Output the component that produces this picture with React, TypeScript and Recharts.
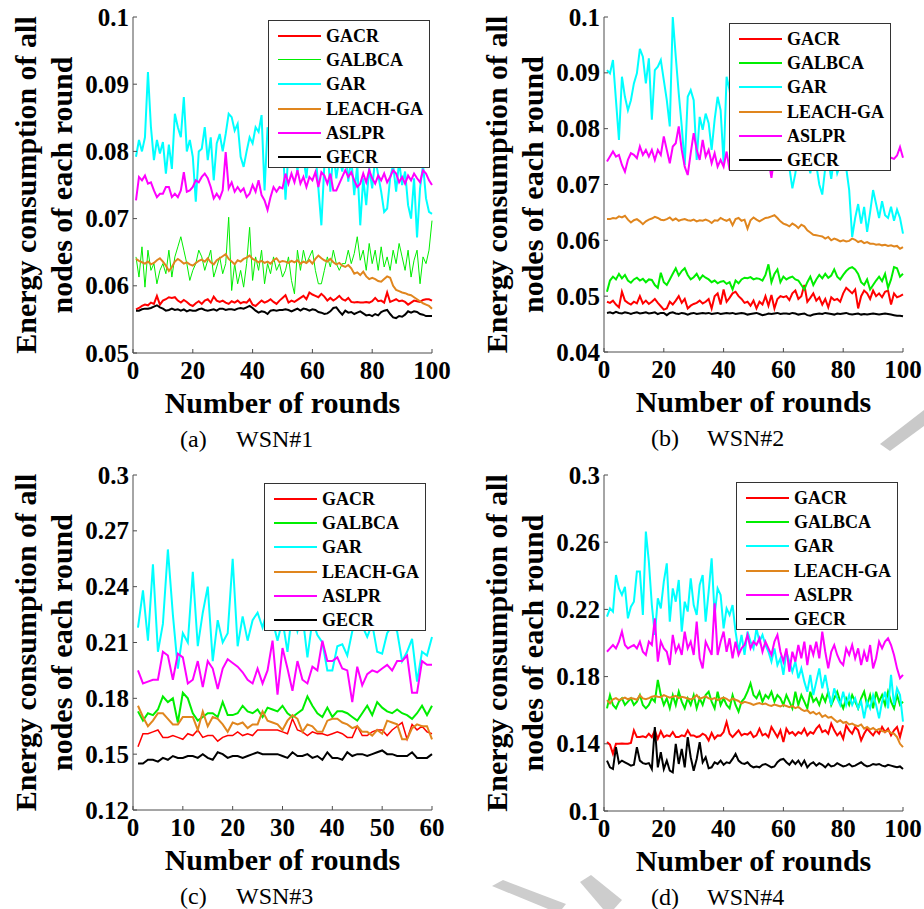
import { LineChart, Line, XAxis, YAxis, Legend } from 'recharts'

const SERIES = ['GACR', 'GALBCA', 'GAR', 'LEACH-GA', 'ASLPR', 'GECR']
const COLORS = ['#ff0000', '#00ee00', '#00ffff', '#e0861e', '#ff00ff', '#000000']

const ROUNDS_100 = Array.from({ length: 100 }, (_, i) => i + 1)
const ROUNDS_60 = Array.from({ length: 60 }, (_, i) => i + 1)

const X_TICKS_100 = [0, 20, 40, 60, 80, 100]
const X_TICKS_60 = [0, 10, 20, 30, 40, 50, 60]
const Y_TICKS_A = [0.05, 0.06, 0.07, 0.08, 0.09, 0.1]
const Y_TICKS_B = [0.04, 0.05, 0.06, 0.07, 0.08, 0.09, 0.1]
const Y_TICKS_C = [0.12, 0.15, 0.18, 0.21, 0.24, 0.27, 0.3]
const Y_TICKS_D = [0.1, 0.14, 0.18, 0.22, 0.26, 0.3]

// WSN#1
const A_GACR = [
  0.0565, 0.0567, 0.0570, 0.0572, 0.0571, 0.0575, 0.0573, 0.0585, 0.0572, 0.0578,
  0.0580, 0.0583, 0.0582, 0.0583, 0.0578, 0.0575, 0.0579, 0.0576, 0.0572, 0.0570,
  0.0574, 0.0577, 0.0573, 0.0578, 0.0580, 0.0575, 0.0584, 0.0578, 0.0576, 0.0578,
  0.0575, 0.0573, 0.0577, 0.0575, 0.0578, 0.0574, 0.0576, 0.0575, 0.0580, 0.0572,
  0.0570, 0.0574, 0.0578, 0.0575, 0.0577, 0.0580, 0.0576, 0.0573, 0.0578, 0.0582,
  0.0586, 0.0575, 0.0578, 0.0576, 0.0579, 0.0582, 0.0585, 0.0580, 0.0590, 0.0587,
  0.0585, 0.0583, 0.0588, 0.0584, 0.0578, 0.0582, 0.0578, 0.0581, 0.0585, 0.0580,
  0.0578, 0.0582, 0.0576, 0.0575, 0.0576, 0.0575, 0.0575, 0.0576, 0.0575, 0.0577,
  0.0582, 0.0577, 0.0578, 0.0575, 0.0590, 0.0576, 0.0578, 0.0580, 0.0577, 0.0578,
  0.0576, 0.0572, 0.0575, 0.0578, 0.0577, 0.0576, 0.0579, 0.0580, 0.0580, 0.0578,
]
const A_GALBCA = [
  0.0643, 0.0613, 0.0658, 0.0598, 0.0653, 0.0623, 0.0633, 0.0603, 0.0623, 0.0633,
  0.0618, 0.0653, 0.0613, 0.0643, 0.0658, 0.0673, 0.0653, 0.0633, 0.0608, 0.0623,
  0.0633, 0.0653, 0.0643, 0.0623, 0.0638, 0.0653, 0.0613, 0.0628, 0.0643, 0.0618,
  0.0633, 0.0702, 0.0593, 0.0633, 0.0603, 0.0623, 0.0598, 0.0633, 0.0687, 0.0608,
  0.0643, 0.0623, 0.0653, 0.0603, 0.0633, 0.0618, 0.0643, 0.0623, 0.0633, 0.0613,
  0.0623, 0.0643, 0.0608, 0.0588, 0.0653, 0.0623, 0.0653, 0.0633, 0.0643, 0.0653,
  0.0623, 0.0603, 0.0603, 0.0623, 0.0643, 0.0628, 0.0653, 0.0633, 0.0623, 0.0633,
  0.0633, 0.0653, 0.0633, 0.0648, 0.0673, 0.0638, 0.0653, 0.0623, 0.0663, 0.0633,
  0.0653, 0.0623, 0.0658, 0.0628, 0.0643, 0.0623, 0.0653, 0.0633, 0.0663, 0.0643,
  0.0623, 0.0653, 0.0613, 0.0638, 0.0653, 0.0603, 0.0643, 0.0633, 0.0653, 0.0697,
]
const A_GAR = [
  0.0792, 0.0817, 0.0800, 0.0821, 0.0918, 0.0836, 0.0787, 0.0817, 0.0797, 0.0814,
  0.0767, 0.0810, 0.0774, 0.0856, 0.0836, 0.0821, 0.0881, 0.0800, 0.0817, 0.0792,
  0.0725, 0.0800, 0.0804, 0.0836, 0.0787, 0.0821, 0.0757, 0.0812, 0.0826, 0.0800,
  0.0826, 0.0856, 0.0851, 0.0831, 0.0841, 0.0792, 0.0777, 0.0800, 0.0821, 0.0812,
  0.0836, 0.0829, 0.0854, 0.0742, 0.0836, 0.0805, 0.0780, 0.0812, 0.0790, 0.0820,
  0.0728, 0.0800, 0.0785, 0.0815, 0.0770, 0.0825, 0.0790, 0.0760, 0.0810, 0.0780,
  0.0800, 0.0745, 0.0690, 0.0780, 0.0815, 0.0740, 0.0800, 0.0760, 0.0790, 0.0770,
  0.0805, 0.0755, 0.0790, 0.0735, 0.0780, 0.0690, 0.0760, 0.0720, 0.0775, 0.0745,
  0.0790, 0.0765, 0.0740, 0.0710, 0.0715, 0.0760, 0.0780, 0.0740, 0.0785, 0.0750,
  0.0770, 0.0720, 0.0700, 0.0760, 0.0672, 0.0745, 0.0780, 0.0730, 0.0710, 0.0707,
]
const A_LEACH = [
  0.0640, 0.0637, 0.0635, 0.0633, 0.0636, 0.0632, 0.0634, 0.0638, 0.0641, 0.0636,
  0.0630, 0.0622, 0.0628, 0.0636, 0.0640, 0.0637, 0.0633, 0.0635, 0.0632, 0.0630,
  0.0634, 0.0637, 0.0639, 0.0636, 0.0641, 0.0635, 0.0632, 0.0638, 0.0641, 0.0644,
  0.0647, 0.0640, 0.0636, 0.0632, 0.0638, 0.0636, 0.0640, 0.0642, 0.0645, 0.0640,
  0.0638, 0.0635, 0.0637, 0.0634, 0.0636, 0.0633, 0.0638, 0.0641, 0.0635, 0.0637,
  0.0636, 0.0634, 0.0637, 0.0635, 0.0638, 0.0633, 0.0636, 0.0634, 0.0638, 0.0633,
  0.0640, 0.0645, 0.0641, 0.0638, 0.0636, 0.0640, 0.0635, 0.0632, 0.0634, 0.0630,
  0.0628, 0.0631, 0.0626, 0.0618, 0.0620, 0.0616, 0.0621, 0.0614, 0.0610, 0.0612,
  0.0610, 0.0607, 0.0606, 0.0610, 0.0614, 0.0612, 0.0600, 0.0594, 0.0592, 0.0590,
  0.0589, 0.0587, 0.0586, 0.0583, 0.0580, 0.0577, 0.0574, 0.0572, 0.0570, 0.0566,
]
const A_ASLPR = [
  0.0727, 0.0762, 0.0757, 0.0764, 0.0752, 0.0754, 0.0742, 0.0732, 0.0737, 0.0737,
  0.0747, 0.0747, 0.0732, 0.0737, 0.0732, 0.0742, 0.0769, 0.0740, 0.0742, 0.0747,
  0.0757, 0.0754, 0.0762, 0.0767, 0.0760, 0.0747, 0.0730, 0.0737, 0.0730, 0.0742,
  0.0799, 0.0745, 0.0754, 0.0740, 0.0747, 0.0740, 0.0745, 0.0732, 0.0737, 0.0750,
  0.0740, 0.0757, 0.0735, 0.0727, 0.0713, 0.0732, 0.0747, 0.0740, 0.0747, 0.0745,
  0.0767, 0.0752, 0.0767, 0.0754, 0.0772, 0.0752, 0.0762, 0.0747, 0.0762, 0.0757,
  0.0769, 0.0747, 0.0769, 0.0764, 0.0752, 0.0767, 0.0742, 0.0742, 0.0752, 0.0762,
  0.0772, 0.0762, 0.0769, 0.0757, 0.0747, 0.0752, 0.0767, 0.0754, 0.0772, 0.0760,
  0.0752, 0.0764, 0.0757, 0.0767, 0.0754, 0.0762, 0.0772, 0.0767, 0.0754, 0.0762,
  0.0752, 0.0764, 0.0757, 0.0767, 0.0760, 0.0754, 0.0772, 0.0767, 0.0757, 0.0750,
]
const A_GECR = [
  0.0563, 0.0563, 0.0565, 0.0566, 0.0566, 0.0567, 0.0569, 0.0571, 0.0568, 0.0566,
  0.0563, 0.0564, 0.0566, 0.0564, 0.0565, 0.0563, 0.0565, 0.0562, 0.0564, 0.0563,
  0.0563, 0.0565, 0.0566, 0.0564, 0.0563, 0.0564, 0.0565, 0.0563, 0.0566, 0.0566,
  0.0564, 0.0565, 0.0565, 0.0564, 0.0566, 0.0567, 0.0566, 0.0568, 0.0570, 0.0567,
  0.0563, 0.0560, 0.0562, 0.0561, 0.0558, 0.0563, 0.0564, 0.0563, 0.0564, 0.0564,
  0.0565, 0.0564, 0.0562, 0.0564, 0.0566, 0.0563, 0.0566, 0.0565, 0.0563, 0.0565,
  0.0564, 0.0561, 0.0560, 0.0558, 0.0559, 0.0562, 0.0567, 0.0568, 0.0562, 0.0557,
  0.0563, 0.0560, 0.0561, 0.0558, 0.0560, 0.0562, 0.0559, 0.0556, 0.0557, 0.0555,
  0.0558, 0.0556, 0.0561, 0.0563, 0.0564, 0.0558, 0.0553, 0.0552, 0.0555, 0.0554,
  0.0557, 0.0562, 0.0560, 0.0562, 0.0561, 0.0558, 0.0557, 0.0555, 0.0555, 0.0555,
]

// WSN#2
const B_GACR = [
  0.0490, 0.0488, 0.0492, 0.0485, 0.0480, 0.0508, 0.0492, 0.0488, 0.0485, 0.0490,
  0.0487, 0.0500, 0.0487, 0.0492, 0.0486, 0.0490, 0.0495, 0.0488, 0.0482, 0.0476,
  0.0478, 0.0490, 0.0485, 0.0492, 0.0500, 0.0488, 0.0495, 0.0478, 0.0483, 0.0486,
  0.0488, 0.0492, 0.0487, 0.0490, 0.0495, 0.0478, 0.0500, 0.0505, 0.0485, 0.0512,
  0.0490, 0.0497, 0.0505, 0.0508, 0.0500, 0.0495, 0.0488, 0.0490, 0.0483, 0.0492,
  0.0478, 0.0490, 0.0485, 0.0500, 0.0483, 0.0502, 0.0478, 0.0495, 0.0500, 0.0498,
  0.0500, 0.0493, 0.0505, 0.0510, 0.0495, 0.0500, 0.0520, 0.0490, 0.0497, 0.0505,
  0.0492, 0.0498, 0.0485, 0.0495, 0.0480, 0.0498, 0.0493, 0.0495, 0.0490, 0.0505,
  0.0515, 0.0510, 0.0505, 0.0512, 0.0478, 0.0500, 0.0510, 0.0505, 0.0495, 0.0510,
  0.0500, 0.0505, 0.0498, 0.0508, 0.0510, 0.0485, 0.0505, 0.0498, 0.0500, 0.0503,
]
const B_GALBCA = [
  0.0508, 0.0528, 0.0535, 0.0530, 0.0540, 0.0532, 0.0538, 0.0528, 0.0524, 0.0530,
  0.0533, 0.0528, 0.0531, 0.0525, 0.0530, 0.0529, 0.0520, 0.0515, 0.0542, 0.0525,
  0.0520, 0.0530, 0.0540, 0.0550, 0.0537, 0.0545, 0.0550, 0.0538, 0.0530, 0.0534,
  0.0540, 0.0530, 0.0537, 0.0533, 0.0530, 0.0525, 0.0528, 0.0523, 0.0526, 0.0527,
  0.0522, 0.0525, 0.0512, 0.0528, 0.0523, 0.0530, 0.0533, 0.0532, 0.0534, 0.0530,
  0.0532, 0.0531, 0.0528, 0.0538, 0.0557, 0.0525, 0.0540, 0.0548, 0.0525, 0.0535,
  0.0530, 0.0533, 0.0535, 0.0530, 0.0528, 0.0520, 0.0512, 0.0525, 0.0535, 0.0520,
  0.0530, 0.0538, 0.0532, 0.0540, 0.0533, 0.0537, 0.0548, 0.0535, 0.0530, 0.0538,
  0.0545, 0.0550, 0.0552, 0.0548, 0.0540, 0.0525, 0.0520, 0.0530, 0.0512, 0.0520,
  0.0528, 0.0535, 0.0527, 0.0540, 0.0515, 0.0530, 0.0552, 0.0550, 0.0535, 0.0540,
]
const B_GAR = [
  0.0905, 0.0899, 0.0923, 0.0851, 0.0780, 0.0893, 0.0857, 0.0833, 0.0851, 0.0881,
  0.0899, 0.0943, 0.0929, 0.0881, 0.0926, 0.0816, 0.0905, 0.0911, 0.0923, 0.0887,
  0.0851, 0.0804, 0.1000, 0.0929, 0.0863, 0.0804, 0.0735, 0.0857, 0.0869, 0.0851,
  0.0744, 0.0821, 0.0798, 0.0827, 0.0810, 0.0762, 0.0816, 0.0857, 0.0833, 0.0738,
  0.0893, 0.0869, 0.0830, 0.0795, 0.0850, 0.0810, 0.0780, 0.0835, 0.0800, 0.0760,
  0.0815, 0.0790, 0.0825, 0.0770, 0.0805, 0.0780, 0.0745, 0.0800, 0.0770, 0.0790,
  0.0755, 0.0730, 0.0693, 0.0720, 0.0760, 0.0740, 0.0780, 0.0745, 0.0720, 0.0755,
  0.0735, 0.0700, 0.0682, 0.0730, 0.0745, 0.0710, 0.0750, 0.0720, 0.0735, 0.0750,
  0.0730, 0.0690, 0.0606, 0.0640, 0.0665, 0.0630, 0.0660, 0.0615, 0.0650, 0.0690,
  0.0665, 0.0640, 0.0670, 0.0645, 0.0640, 0.0660, 0.0635, 0.0655, 0.0640, 0.0612,
]
const B_LEACH = [
  0.0638, 0.0638, 0.0640, 0.0639, 0.0643, 0.0641, 0.0644, 0.0637, 0.0632, 0.0636,
  0.0638, 0.0634, 0.0629, 0.0634, 0.0637, 0.0639, 0.0642, 0.0640, 0.0637, 0.0636,
  0.0638, 0.0641, 0.0636, 0.0639, 0.0635, 0.0637, 0.0638, 0.0636, 0.0635, 0.0637,
  0.0634, 0.0636, 0.0635, 0.0637, 0.0635, 0.0631, 0.0636, 0.0635, 0.0640, 0.0637,
  0.0635, 0.0638, 0.0627, 0.0638, 0.0640, 0.0635, 0.0637, 0.0621, 0.0636, 0.0641,
  0.0637, 0.0634, 0.0637, 0.0640, 0.0641, 0.0643, 0.0645, 0.0640, 0.0634, 0.0630,
  0.0628, 0.0625, 0.0630, 0.0627, 0.0622, 0.0628, 0.0625, 0.0618, 0.0614, 0.0610,
  0.0609, 0.0608, 0.0607, 0.0603, 0.0606, 0.0600, 0.0603, 0.0601, 0.0598, 0.0600,
  0.0598, 0.0599, 0.0603, 0.0601, 0.0597, 0.0599, 0.0595, 0.0597, 0.0594, 0.0594,
  0.0592, 0.0593, 0.0591, 0.0592, 0.0590, 0.0591, 0.0589, 0.0590, 0.0585, 0.0588,
]
const B_ASLPR = [
  0.0741, 0.0750, 0.0759, 0.0750, 0.0753, 0.0735, 0.0723, 0.0744, 0.0756, 0.0753,
  0.0747, 0.0768, 0.0753, 0.0762, 0.0750, 0.0762, 0.0744, 0.0762, 0.0753, 0.0786,
  0.0762, 0.0738, 0.0768, 0.0774, 0.0804, 0.0762, 0.0732, 0.0717, 0.0756, 0.0792,
  0.0762, 0.0744, 0.0780, 0.0750, 0.0762, 0.0738, 0.0756, 0.0732, 0.0744, 0.0732,
  0.0759, 0.0726, 0.0745, 0.0760, 0.0740, 0.0755, 0.0770, 0.0750, 0.0745, 0.0765,
  0.0750, 0.0760, 0.0740, 0.0755, 0.0745, 0.0712, 0.0750, 0.0765, 0.0755, 0.0745,
  0.0760, 0.0750, 0.0740, 0.0755, 0.0765, 0.0750, 0.0745, 0.0760, 0.0750, 0.0740,
  0.0755, 0.0765, 0.0745, 0.0750, 0.0760, 0.0740, 0.0755, 0.0745, 0.0760, 0.0750,
  0.0745, 0.0755, 0.0765, 0.0750, 0.0740, 0.0755, 0.0745, 0.0760, 0.0750, 0.0745,
  0.0755, 0.0748, 0.0752, 0.0745, 0.0750, 0.0748, 0.0746, 0.0752, 0.0767, 0.0748,
]
const B_GECR = [
  0.0470, 0.0471, 0.0469, 0.0472, 0.0470, 0.0469, 0.0471, 0.0470, 0.0468, 0.0470,
  0.0471, 0.0469, 0.0470, 0.0471, 0.0469, 0.0470, 0.0471, 0.0468, 0.0470, 0.0470,
  0.0466, 0.0470, 0.0471, 0.0469, 0.0468, 0.0470, 0.0469, 0.0467, 0.0469, 0.0470,
  0.0468, 0.0469, 0.0470, 0.0469, 0.0470, 0.0468, 0.0469, 0.0470, 0.0468, 0.0469,
  0.0470, 0.0469, 0.0470, 0.0468, 0.0469, 0.0470, 0.0469, 0.0467, 0.0468, 0.0469,
  0.0470, 0.0468, 0.0466, 0.0467, 0.0469, 0.0468, 0.0469, 0.0470, 0.0468, 0.0469,
  0.0469, 0.0468, 0.0470, 0.0469, 0.0467, 0.0468, 0.0469, 0.0466, 0.0465, 0.0467,
  0.0468, 0.0469, 0.0468, 0.0470, 0.0469, 0.0468, 0.0467, 0.0469, 0.0468, 0.0469,
  0.0470, 0.0468, 0.0467, 0.0468, 0.0469, 0.0467, 0.0468, 0.0467, 0.0468, 0.0469,
  0.0468, 0.0467, 0.0468, 0.0469, 0.0468, 0.0467, 0.0466, 0.0465, 0.0465, 0.0464,
]

// WSN#3
const C_GACR = [
  0.154, 0.161, 0.161, 0.162, 0.163, 0.159, 0.159, 0.160, 0.159, 0.158,
  0.161, 0.160, 0.163, 0.159, 0.160, 0.160, 0.157, 0.159, 0.160, 0.160,
  0.162, 0.160, 0.161, 0.160, 0.163, 0.163, 0.163, 0.163, 0.163, 0.162,
  0.161, 0.169, 0.163, 0.162, 0.160, 0.162, 0.161, 0.161, 0.160, 0.161,
  0.162, 0.161, 0.159, 0.159, 0.165, 0.160, 0.160, 0.162, 0.163, 0.163,
  0.160, 0.163, 0.165, 0.167, 0.158, 0.166, 0.163, 0.165, 0.162, 0.161,
]
const C_GALBCA = [
  0.173, 0.168, 0.172, 0.171, 0.174, 0.181, 0.178, 0.180, 0.167, 0.183,
  0.180, 0.172, 0.168, 0.170, 0.172, 0.172, 0.170, 0.178, 0.171, 0.171,
  0.172, 0.176, 0.173, 0.172, 0.174, 0.170, 0.175, 0.174, 0.173, 0.176,
  0.172, 0.170, 0.172, 0.174, 0.181, 0.176, 0.172, 0.170, 0.175, 0.170,
  0.173, 0.173, 0.172, 0.170, 0.168, 0.172, 0.176, 0.171, 0.178, 0.175,
  0.173, 0.172, 0.174, 0.172, 0.171, 0.169, 0.172, 0.176, 0.171, 0.176,
]
const C_GAR = [
  0.218, 0.238, 0.211, 0.252, 0.205, 0.220, 0.260, 0.225, 0.196, 0.215,
  0.210, 0.248, 0.208, 0.226, 0.240, 0.200, 0.222, 0.210, 0.215, 0.255,
  0.208, 0.224, 0.211, 0.222, 0.226, 0.218, 0.228, 0.222, 0.211, 0.222,
  0.205, 0.228, 0.216, 0.225, 0.202, 0.222, 0.214, 0.210, 0.195, 0.195,
  0.208, 0.209, 0.203, 0.216, 0.222, 0.219, 0.213, 0.220, 0.205, 0.204,
  0.215, 0.219, 0.216, 0.200, 0.205, 0.212, 0.189, 0.205, 0.203, 0.213,
]
const C_LEACH = [
  0.176, 0.170, 0.165, 0.168, 0.172, 0.172, 0.169, 0.166, 0.166, 0.170,
  0.170, 0.170, 0.163, 0.173, 0.165, 0.170, 0.169, 0.166, 0.162, 0.167,
  0.166, 0.167, 0.164, 0.166, 0.166, 0.173, 0.168, 0.167, 0.166, 0.163,
  0.168, 0.171, 0.169, 0.162, 0.166, 0.165, 0.162, 0.162, 0.168, 0.169,
  0.169, 0.167, 0.166, 0.164, 0.165, 0.162, 0.162, 0.160, 0.163, 0.161,
  0.168, 0.167, 0.166, 0.158, 0.158, 0.164, 0.166, 0.165, 0.165, 0.158,
]
const C_ASLPR = [
  0.195, 0.188, 0.189, 0.190, 0.190, 0.205, 0.203, 0.190, 0.204, 0.202,
  0.188, 0.190, 0.200, 0.186, 0.200, 0.196, 0.185, 0.196, 0.201, 0.199,
  0.197, 0.194, 0.190, 0.188, 0.196, 0.188, 0.195, 0.211, 0.182, 0.207,
  0.196, 0.184, 0.200, 0.190, 0.188, 0.197, 0.195, 0.211, 0.200, 0.200,
  0.202, 0.196, 0.195, 0.178, 0.197, 0.187, 0.193, 0.195, 0.194, 0.196,
  0.198, 0.195, 0.200, 0.200, 0.203, 0.183, 0.183, 0.200, 0.198, 0.198,
]
const C_GECR = [
  0.145, 0.145, 0.147, 0.147, 0.146, 0.148, 0.147, 0.149, 0.148, 0.148,
  0.149, 0.149, 0.148, 0.150, 0.148, 0.147, 0.151, 0.150, 0.148, 0.149,
  0.149, 0.148, 0.149, 0.150, 0.151, 0.150, 0.150, 0.150, 0.150, 0.149,
  0.148, 0.151, 0.149, 0.149, 0.150, 0.148, 0.149, 0.147, 0.151, 0.148,
  0.148, 0.147, 0.151, 0.149, 0.150, 0.150, 0.149, 0.150, 0.151, 0.152,
  0.150, 0.150, 0.149, 0.149, 0.149, 0.151, 0.148, 0.148, 0.148, 0.150,
]

// WSN#4
const D_GACR = [
  0.1410, 0.1395, 0.1340, 0.1400, 0.1400, 0.1402, 0.1400, 0.1400, 0.1405, 0.1480,
  0.1440, 0.1440, 0.1445, 0.1438, 0.1460, 0.1440, 0.1480, 0.1430, 0.1475, 0.1440,
  0.1450, 0.1445, 0.1470, 0.1440, 0.1440, 0.1450, 0.1445, 0.1480, 0.1450, 0.1450,
  0.1440, 0.1445, 0.1460, 0.1450, 0.1420, 0.1465, 0.1430, 0.1450, 0.1448, 0.1470,
  0.1530, 0.1460, 0.1440, 0.1460, 0.1480, 0.1450, 0.1460, 0.1455, 0.1470, 0.1440,
  0.1450, 0.1490, 0.1450, 0.1460, 0.1440, 0.1500, 0.1470, 0.1440, 0.1480, 0.1410,
  0.1490, 0.1460, 0.1470, 0.1450, 0.1470, 0.1460, 0.1490, 0.1450, 0.1470, 0.1460,
  0.1490, 0.1510, 0.1470, 0.1480, 0.1460, 0.1520, 0.1480, 0.1450, 0.1470, 0.1430,
  0.1510, 0.1480, 0.1460, 0.1500, 0.1480, 0.1420, 0.1460, 0.1490, 0.1470, 0.1450,
  0.1480, 0.1460, 0.1500, 0.1470, 0.1490, 0.1450, 0.1480, 0.1500, 0.1440, 0.1510,
]
const D_GALBCA = [
  0.1611, 0.1690, 0.1631, 0.1611, 0.1651, 0.1671, 0.1631, 0.1651, 0.1671, 0.1631,
  0.1651, 0.1690, 0.1631, 0.1611, 0.1631, 0.1671, 0.1651, 0.1780, 0.1690, 0.1631,
  0.1671, 0.1611, 0.1690, 0.1631, 0.1710, 0.1651, 0.1611, 0.1671, 0.1631, 0.1690,
  0.1611, 0.1671, 0.1631, 0.1690, 0.1710, 0.1651, 0.1611, 0.1710, 0.1631, 0.1671,
  0.1631, 0.1611, 0.1690, 0.1631, 0.1591, 0.1651, 0.1671, 0.1710, 0.1760, 0.1690,
  0.1671, 0.1710, 0.1651, 0.1690, 0.1671, 0.1710, 0.1651, 0.1690, 0.1671, 0.1631,
  0.1690, 0.1651, 0.1611, 0.1710, 0.1631, 0.1690, 0.1651, 0.1611, 0.1710, 0.1651,
  0.1671, 0.1631, 0.1690, 0.1651, 0.1710, 0.1631, 0.1671, 0.1710, 0.1651, 0.1611,
  0.1671, 0.1631, 0.1690, 0.1651, 0.1611, 0.1671, 0.1710, 0.1631, 0.1690, 0.1611,
  0.1710, 0.1651, 0.1690, 0.1631, 0.1710, 0.1651, 0.1611, 0.1690, 0.1631, 0.1651,
]
const D_GAR = [
  0.2157, 0.2206, 0.2187, 0.2405, 0.2325, 0.2286, 0.2335, 0.2147, 0.2216, 0.2246,
  0.2425, 0.2425, 0.2167, 0.2663, 0.2484, 0.2226, 0.2048, 0.2266, 0.2206, 0.2365,
  0.2474, 0.2127, 0.2325, 0.2246, 0.2375, 0.2068, 0.2246, 0.2187, 0.2385, 0.2226,
  0.2167, 0.2345, 0.2405, 0.2127, 0.2306, 0.2504, 0.2167, 0.2325, 0.2286, 0.2087,
  0.2206, 0.2167, 0.2226, 0.2068, 0.1948, 0.2048, 0.1929, 0.2068, 0.2008, 0.1968,
  0.2087, 0.2008, 0.2048, 0.1988, 0.1948, 0.1889, 0.1968, 0.1869, 0.1909, 0.1810,
  0.1948, 0.1889, 0.1829, 0.1889, 0.1790, 0.1849, 0.1770, 0.1710, 0.1810, 0.1690,
  0.1770, 0.1849, 0.1730, 0.1810, 0.1710, 0.1631, 0.1730, 0.1671, 0.1631, 0.1710,
  0.1631, 0.1690, 0.1631, 0.1671, 0.1611, 0.1651, 0.1552, 0.1651, 0.1611, 0.1690,
  0.1631, 0.1552, 0.1651, 0.1710, 0.1611, 0.1810, 0.1631, 0.1730, 0.1690, 0.1532,
]
const D_LEACH = [
  0.1660, 0.1640, 0.1665, 0.1672, 0.1660, 0.1668, 0.1675, 0.1665, 0.1672, 0.1668,
  0.1662, 0.1688, 0.1670, 0.1665, 0.1672, 0.1680, 0.1685, 0.1680, 0.1678, 0.1690,
  0.1682, 0.1675, 0.1680, 0.1686, 0.1672, 0.1680, 0.1676, 0.1670, 0.1664, 0.1672,
  0.1690, 0.1668, 0.1675, 0.1682, 0.1670, 0.1665, 0.1672, 0.1660, 0.1668, 0.1675,
  0.1668, 0.1655, 0.1670, 0.1662, 0.1655, 0.1640, 0.1650, 0.1645, 0.1640, 0.1632,
  0.1638, 0.1642, 0.1635, 0.1640, 0.1630, 0.1625, 0.1633, 0.1628, 0.1622, 0.1630,
  0.1625, 0.1618, 0.1625, 0.1612, 0.1620, 0.1605, 0.1595, 0.1600, 0.1582, 0.1590,
  0.1575, 0.1585, 0.1560, 0.1570, 0.1555, 0.1560, 0.1545, 0.1530, 0.1540, 0.1525,
  0.1530, 0.1515, 0.1520, 0.1510, 0.1505, 0.1515, 0.1490, 0.1500, 0.1485, 0.1495,
  0.1480, 0.1488, 0.1475, 0.1470, 0.1478, 0.1465, 0.1460, 0.1440, 0.1400, 0.1380,
]
const D_ASLPR = [
  0.1948, 0.1968, 0.1988, 0.1968, 0.2008, 0.2068, 0.1988, 0.1968, 0.1978, 0.1988,
  0.1968, 0.2008, 0.1948, 0.1929, 0.2008, 0.1988, 0.2147, 0.1889, 0.2008, 0.1968,
  0.1948, 0.1869, 0.2048, 0.1948, 0.1988, 0.1929, 0.2068, 0.1968, 0.2008, 0.1929,
  0.2127, 0.1909, 0.1849, 0.2008, 0.1968, 0.1929, 0.2236, 0.1929, 0.2008, 0.2068,
  0.1948, 0.2028, 0.1909, 0.2008, 0.1929, 0.1968, 0.1988, 0.2048, 0.1968, 0.2008,
  0.1988, 0.2028, 0.1948, 0.2008, 0.1968, 0.1929, 0.2008, 0.2048, 0.1948, 0.1889,
  0.1968, 0.1829, 0.1948, 0.1889, 0.1988, 0.1909, 0.2008, 0.1869, 0.1988, 0.1929,
  0.2008, 0.1909, 0.2068, 0.1948, 0.1849, 0.1948, 0.1988, 0.1929, 0.1889, 0.1869,
  0.1968, 0.1929, 0.1988, 0.1909, 0.1968, 0.1869, 0.1948, 0.1889, 0.1988, 0.1849,
  0.1909, 0.2008, 0.1968, 0.2008, 0.2028, 0.1988, 0.1929, 0.1849, 0.1790, 0.1810,
]
const D_GECR = [
  0.1300, 0.1260, 0.1250, 0.1380, 0.1285, 0.1300, 0.1290, 0.1280, 0.1270, 0.1275,
  0.1380, 0.1300, 0.1285, 0.1280, 0.1285, 0.1250, 0.1500, 0.1260, 0.1350, 0.1250,
  0.1300, 0.1240, 0.1230, 0.1400, 0.1280, 0.1370, 0.1260, 0.1440, 0.1320, 0.1240,
  0.1310, 0.1410, 0.1290, 0.1320, 0.1255, 0.1260, 0.1290, 0.1280, 0.1300, 0.1275,
  0.1290, 0.1285, 0.1310, 0.1340, 0.1300, 0.1285, 0.1280, 0.1290, 0.1270, 0.1260,
  0.1265, 0.1260, 0.1275, 0.1280, 0.1270, 0.1260, 0.1265, 0.1290, 0.1305, 0.1310,
  0.1290, 0.1275, 0.1300, 0.1280, 0.1300, 0.1270, 0.1300, 0.1260, 0.1280, 0.1290,
  0.1270, 0.1285, 0.1275, 0.1260, 0.1280, 0.1265, 0.1270, 0.1285, 0.1275, 0.1265,
  0.1270, 0.1280, 0.1265, 0.1270, 0.1280, 0.1290, 0.1275, 0.1265, 0.1270, 0.1280,
  0.1275, 0.1280, 0.1270, 0.1265, 0.1275, 0.1270, 0.1265, 0.1260, 0.1265, 0.1250,
]

const SERIF = "'Liberation Serif', 'DejaVu Serif', serif"
const FRAME = '#4d4d4d'
const TICK_LEN = 4

type Rect = { l: number; t: number; r: number; b: number }
type PanelDef = {
  id: string
  caption: string
  left: number
  top: number
  width: number
  height: number
  plot: Rect
  rounds: number[]
  xMax: number
  xTicks: number[]
  yDomain: [number, number]
  yTicks: number[]
  series: number[][]
  widths: number[]
  legend: { left: number; top: number }
}

const PANELS: PanelDef[] = [
  {
    id: 'a', caption: 'WSN#1', left: 0, top: 0, width: 460, height: 440,
    plot: { l: 133, t: 17, r: 432, b: 353 },
    rounds: ROUNDS_100, xMax: 100, xTicks: X_TICKS_100,
    yDomain: [0.05, 0.1], yTicks: Y_TICKS_A,
    series: [A_GACR, A_GALBCA, A_GAR, A_LEACH, A_ASLPR, A_GECR],
    widths: [2, 1, 2, 2, 2, 2],
    legend: { left: 268, top: 20 },
  },
  {
    id: 'b', caption: 'WSN#2', left: 460, top: 0, width: 464, height: 440,
    plot: { l: 144, t: 17, r: 443, b: 352 },
    rounds: ROUNDS_100, xMax: 100, xTicks: X_TICKS_100,
    yDomain: [0.04, 0.1], yTicks: Y_TICKS_B,
    series: [B_GACR, B_GALBCA, B_GAR, B_LEACH, B_ASLPR, B_GECR],
    widths: [2, 2, 2, 2, 2, 2],
    legend: { left: 269, top: 23 },
  },
  {
    id: 'c', caption: 'WSN#3', left: 0, top: 440, width: 460, height: 469,
    plot: { l: 133, t: 35, r: 432, b: 370 },
    rounds: ROUNDS_60, xMax: 60, xTicks: X_TICKS_60,
    yDomain: [0.12, 0.3], yTicks: Y_TICKS_C,
    series: [C_GACR, C_GALBCA, C_GAR, C_LEACH, C_ASLPR, C_GECR],
    widths: [1.5, 2, 2, 2, 2, 2],
    legend: { left: 264, top: 43 },
  },
  {
    id: 'd', caption: 'WSN#4', left: 460, top: 440, width: 464, height: 469,
    plot: { l: 144, t: 35, r: 443, b: 371 },
    rounds: ROUNDS_100, xMax: 100, xTicks: X_TICKS_100,
    yDomain: [0.1, 0.3], yTicks: Y_TICKS_D,
    series: [D_GACR, D_GALBCA, D_GAR, D_LEACH, D_ASLPR, D_GECR],
    widths: [2, 2, 2, 2, 2, 2],
    legend: { left: 276, top: 42 },
  },
]

function buildRows(rounds: number[], series: number[][]) {
  return rounds.map((r, i) => {
    const row: Record<string, number> = { r }
    series.forEach((s, k) => {
      row['s' + k] = s[i]
    })
    return row
  })
}

const fmtY = (v: number) => String(Number(v.toFixed(2)))

const tickText = {
  fontFamily: SERIF,
  fontWeight: 700,
  fontSize: 25,
  fill: '#000',
}

function BottomTick(props: any) {
  const { x, y, payload } = props
  return (
    <g>
      <line x1={x} y1={y} x2={x} y2={y - TICK_LEN} stroke={FRAME} />
      <text x={x} y={y + 17} textAnchor="middle" dominantBaseline="central" {...tickText}>
        {payload.value}
      </text>
    </g>
  )
}

function LeftTick(props: any) {
  const { x, y, payload } = props
  return (
    <g>
      <line x1={x} y1={y} x2={x + TICK_LEN} y2={y} stroke={FRAME} />
      <text x={x - 4} y={y} textAnchor="end" dominantBaseline="central" {...tickText}>
        {fmtY(payload.value)}
      </text>
    </g>
  )
}

function TopTick(props: any) {
  const { x, y } = props
  return <line x1={x} y1={y} x2={x} y2={y + TICK_LEN} stroke={FRAME} />
}

function RightTick(props: any) {
  const { x, y } = props
  return <line x1={x} y1={y} x2={x - TICK_LEN} y2={y} stroke={FRAME} />
}

function LegendBox({ widths }: { widths: number[] }) {
  return (
    <div
      style={{
        width: 162,
        height: 148,
        boxSizing: 'border-box',
        border: '1px solid #333',
        background: '#fff',
        position: 'relative',
      }}
    >
      {SERIES.map((name, i) => (
        <div key={name} style={{ position: 'absolute', left: 0, top: 3 + Math.round(i * 24.2), width: '100%', height: 24 }}>
          <div
            style={{
              position: 'absolute',
              left: 9,
              top: 12 - Math.ceil(widths[i] / 2),
              width: 43,
              height: Math.round(widths[i]),
              background: COLORS[i],
            }}
          />
          <span
            style={{
              position: 'absolute',
              left: 57,
              top: 0,
              lineHeight: '24px',
              fontFamily: SERIF,
              fontWeight: 700,
              fontSize: 18,
              color: '#000',
              whiteSpace: 'nowrap',
            }}
          >
            {name}
          </span>
        </div>
      ))}
    </div>
  )
}

function Panel({ p }: { p: PanelDef }) {
  const rows = buildRows(p.rounds, p.series)
  return (
    <div style={{ position: 'absolute', left: p.left, top: p.top }}>
      <LineChart
        width={p.width}
        height={p.height}
        data={rows}
        margin={{ top: p.plot.t, right: p.width - p.plot.r, bottom: 0, left: 0 }}
      >
        <XAxis
          dataKey="r"
          type="number"
          domain={[0, p.xMax]}
          ticks={p.xTicks}
          interval={0}
          height={p.height - p.plot.b}
          tickSize={0}
          tickMargin={0}
          tickLine={false}
          axisLine={{ stroke: FRAME }}
          tick={<BottomTick />}
        />
        <XAxis
          xAxisId="top"
          orientation="top"
          dataKey="r"
          type="number"
          domain={[0, p.xMax]}
          ticks={p.xTicks}
          interval={0}
          height={0}
          tickSize={0}
          tickMargin={0}
          tickLine={false}
          axisLine={{ stroke: FRAME }}
          tick={<TopTick />}
        />
        <YAxis
          type="number"
          domain={p.yDomain}
          ticks={p.yTicks}
          interval={0}
          width={p.plot.l}
          tickSize={0}
          tickMargin={0}
          tickLine={false}
          axisLine={{ stroke: FRAME }}
          tick={<LeftTick />}
        />
        <YAxis
          yAxisId="right"
          orientation="right"
          type="number"
          domain={p.yDomain}
          ticks={p.yTicks}
          interval={0}
          width={0}
          tickSize={0}
          tickMargin={0}
          tickLine={false}
          axisLine={{ stroke: FRAME }}
          tick={<RightTick />}
        />
        {SERIES.map((name, k) => (
          <Line
            key={name}
            name={name}
            dataKey={'s' + k}
            type="linear"
            stroke={COLORS[k]}
            strokeWidth={p.widths[k]}
            dot={false}
            activeDot={false}
            isAnimationActive={false}
          />
        ))}
        <Legend
          layout="vertical"
          align="center"
          verticalAlign="middle"
          width={162}
          height={148}
          wrapperStyle={{ left: p.legend.left, top: p.legend.top, width: 162, height: 148 }}
          content={() => <LegendBox widths={p.widths} />}
        />
      </LineChart>
    </div>
  )
}

function Labels() {
  return (
    <svg
      width={924}
      height={909}
      style={{ position: 'absolute', left: 0, top: 0, pointerEvents: 'none' }}
    >
      {/* faint watermark strokes */}
      <polygon points="880,444 924,410 924,426 890,451" fill="#c9c9c9" />
      <polygon points="492,886 503,880 566,904 562,909 548,909" fill="#cdcdcd" />
      <polygon points="580,882 591,875 622,900 614,909 603,909" fill="#cdcdcd" />
      {PANELS.map((p) => {
        const l = p.left + p.plot.l
        const r = p.left + p.plot.r
        const t = p.top + p.plot.t
        const b = p.top + p.plot.b
        const cy = (t + b) / 2
        const cx = (l + r) / 2
        const bold = { fontFamily: SERIF, fontWeight: 700, fontSize: 30, fill: '#000' }
        return (
          <g key={p.id}>
            <text
              transform={`translate(${l - 108},${cy}) rotate(-90)`}
              textAnchor="middle"
              dominantBaseline="central"
              {...bold}
            >
              Energy consumption of all
            </text>
            <text
              transform={`translate(${l - 72},${cy}) rotate(-90)`}
              textAnchor="middle"
              dominantBaseline="central"
              {...bold}
            >
              nodes of each round
            </text>
            <text x={cx} y={b + 49} textAnchor="middle" dominantBaseline="central" {...bold}>
              Number of rounds
            </text>
            <text x={l + 47} y={b + 86} dominantBaseline="central" fontFamily={SERIF} fontSize={24} fill="#000">
              ({p.id})
            </text>
            <text x={l + 103} y={b + 86} dominantBaseline="central" fontFamily={SERIF} fontSize={24} fill="#000">
              {p.caption}
            </text>
          </g>
        )
      })}
    </svg>
  )
}

export default function App() {
  return (
    <div style={{ position: 'absolute', left: 0, top: 0, width: 924, height: 909, background: '#fff', overflow: 'hidden' }}>
      {PANELS.map((p) => (
        <Panel key={p.id} p={p} />
      ))}
      <Labels />
    </div>
  )
}
